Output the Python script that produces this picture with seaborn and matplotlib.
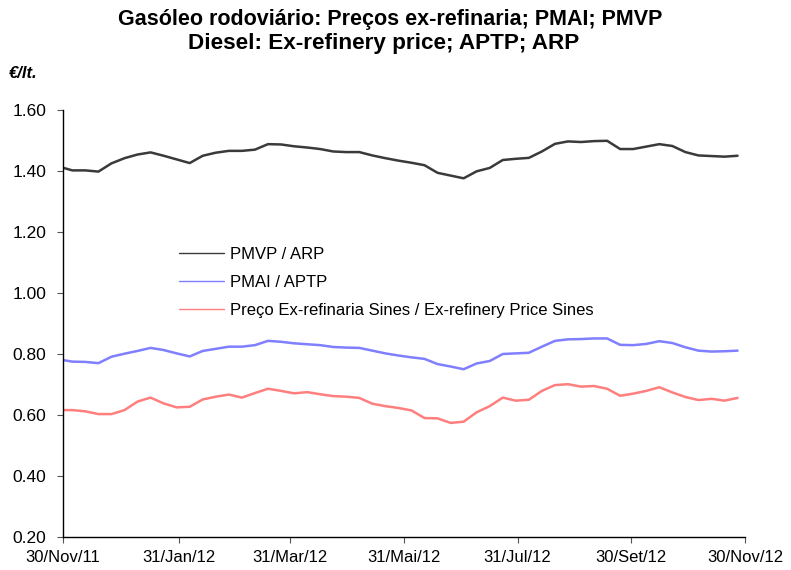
import matplotlib
matplotlib.use("Agg")
import matplotlib.pyplot as plt
import pandas as pd
import seaborn as sns

# ── Data (weekly) ──────────────────────────────────────────────────────────────
dates = pd.date_range("2011-11-28", periods=53, freq="7D")

pmvp = [1.415, 1.403, 1.403, 1.399, 1.426, 1.443, 1.455, 1.462, 1.451, 1.439,
        1.427, 1.451, 1.461, 1.467, 1.467, 1.471, 1.489, 1.488, 1.482, 1.478,
        1.473, 1.465, 1.463, 1.463, 1.452, 1.443, 1.435, 1.428, 1.420, 1.395,
        1.386, 1.377, 1.400, 1.411, 1.437, 1.441, 1.444, 1.465, 1.490, 1.498,
        1.496, 1.499, 1.500, 1.473, 1.473, 1.481, 1.489, 1.483, 1.463, 1.452,
        1.450, 1.448, 1.451]

pmai = [0.783, 0.776, 0.775, 0.771, 0.792, 0.802, 0.811, 0.821, 0.814, 0.803,
        0.793, 0.811, 0.818, 0.825, 0.825, 0.830, 0.844, 0.841, 0.836, 0.833,
        0.830, 0.824, 0.822, 0.821, 0.812, 0.803, 0.796, 0.790, 0.785, 0.768,
        0.760, 0.751, 0.770, 0.778, 0.801, 0.803, 0.805, 0.825, 0.844, 0.849,
        0.850, 0.852, 0.852, 0.831, 0.830, 0.834, 0.843, 0.837, 0.823, 0.812,
        0.809, 0.810, 0.812]

exref = [0.617, 0.617, 0.613, 0.604, 0.604, 0.617, 0.645, 0.658, 0.639, 0.626,
         0.628, 0.652, 0.661, 0.668, 0.658, 0.673, 0.687, 0.680, 0.672, 0.676,
         0.669, 0.663, 0.661, 0.657, 0.638, 0.630, 0.624, 0.616, 0.591, 0.590,
         0.575, 0.579, 0.610, 0.630, 0.658, 0.648, 0.651, 0.680, 0.699, 0.702,
         0.694, 0.696, 0.687, 0.664, 0.671, 0.680, 0.692, 0.675, 0.660, 0.650,
         0.654, 0.648, 0.657]

series_names = [
    "PMVP / ARP",
    "PMAI / APTP",
    "Preço Ex-refinaria Sines / Ex-refinery Price Sines",
]
series_colors = ["#3a3a3a", "#7f7fff", "#ff7f7f"]

tick_dates = pd.to_datetime(["2011-11-30", "2012-01-31", "2012-03-31", "2012-05-31",
                             "2012-07-31", "2012-09-30", "2012-11-30"])
tick_labels = ["30/Nov/11", "31/Jan/12", "31/Mar/12", "31/Mai/12",
               "31/Jul/12", "30/Set/12", "30/Nov/12"]
y_ticks = [0.20, 0.40, 0.60, 0.80, 1.00, 1.20, 1.40, 1.60]

# ── Long table for seaborn ─────────────────────────────────────────────────────
df = pd.DataFrame({"date": dates, series_names[0]: pmvp,
                   series_names[1]: pmai, series_names[2]: exref})
long_df = df.melt(id_vars="date", var_name="serie", value_name="preco")

sns.set_theme(style="white")
plt.rcParams["font.family"] = ["Liberation Sans", "DejaVu Sans"]
plt.rcParams["text.color"] = "black"
plt.rcParams["xtick.color"] = "black"
plt.rcParams["ytick.color"] = "black"

fig = plt.figure(figsize=(7.91, 5.70), dpi=100)
ax = fig.add_axes([63 / 791, 1 - 537.3 / 570, 682 / 791, 427 / 570])

sns.lineplot(data=long_df, x="date", y="preco", hue="serie", hue_order=series_names,
             palette=series_colors, linewidth=1.8, ax=ax)

ax.set_xlim(tick_dates[0], tick_dates[-1])
ax.set_ylim(0.20, 1.60)
ax.set_xticks(tick_dates)
ax.set_xticklabels(tick_labels, fontsize=12)
ax.set_yticks(y_ticks)
ax.set_yticklabels([f"{v:.2f}" for v in y_ticks], fontsize=12.5)
ax.set_xlabel("")
ax.set_ylabel("")

for side in ["top", "right"]:
    ax.spines[side].set_visible(False)
for side in ["left", "bottom"]:
    ax.spines[side].set_color("black")
    ax.spines[side].set_linewidth(1.0)
ax.tick_params(axis="both", direction="out", length=4, width=0.8, color="#555555",
               bottom=True, left=True)
ax.tick_params(axis="y", pad=8)
ax.tick_params(axis="x", pad=5)

leg = ax.legend(loc="upper left", bbox_to_anchor=(0.170, 0.681), frameon=False,
                fontsize=12, handlelength=2.7, handletextpad=0.35, labelspacing=0.8,
                borderaxespad=0, borderpad=0)
for line in leg.get_lines():
    line.set_linewidth(1.0)

# ── Titles ─────────────────────────────────────────────────────────────────────
fig.text(390 / 791, 1 - 20 / 570, "Gasóleo rodoviário: Preços ex-refinaria; PMAI; PMVP",
         ha="center", va="center", fontsize=15.5, fontweight="bold")
fig.text(384 / 791, 1 - 43 / 570, "Diesel: Ex-refinery price; APTP; ARP",
         ha="center", va="center", fontsize=16.2, fontweight="bold")
fig.text(9 / 791, 1 - 73 / 570, "€/lt.", ha="left", va="center", fontsize=12,
         fontweight="bold", fontstyle="italic")

fig.savefig("out.png", dpi=100)
